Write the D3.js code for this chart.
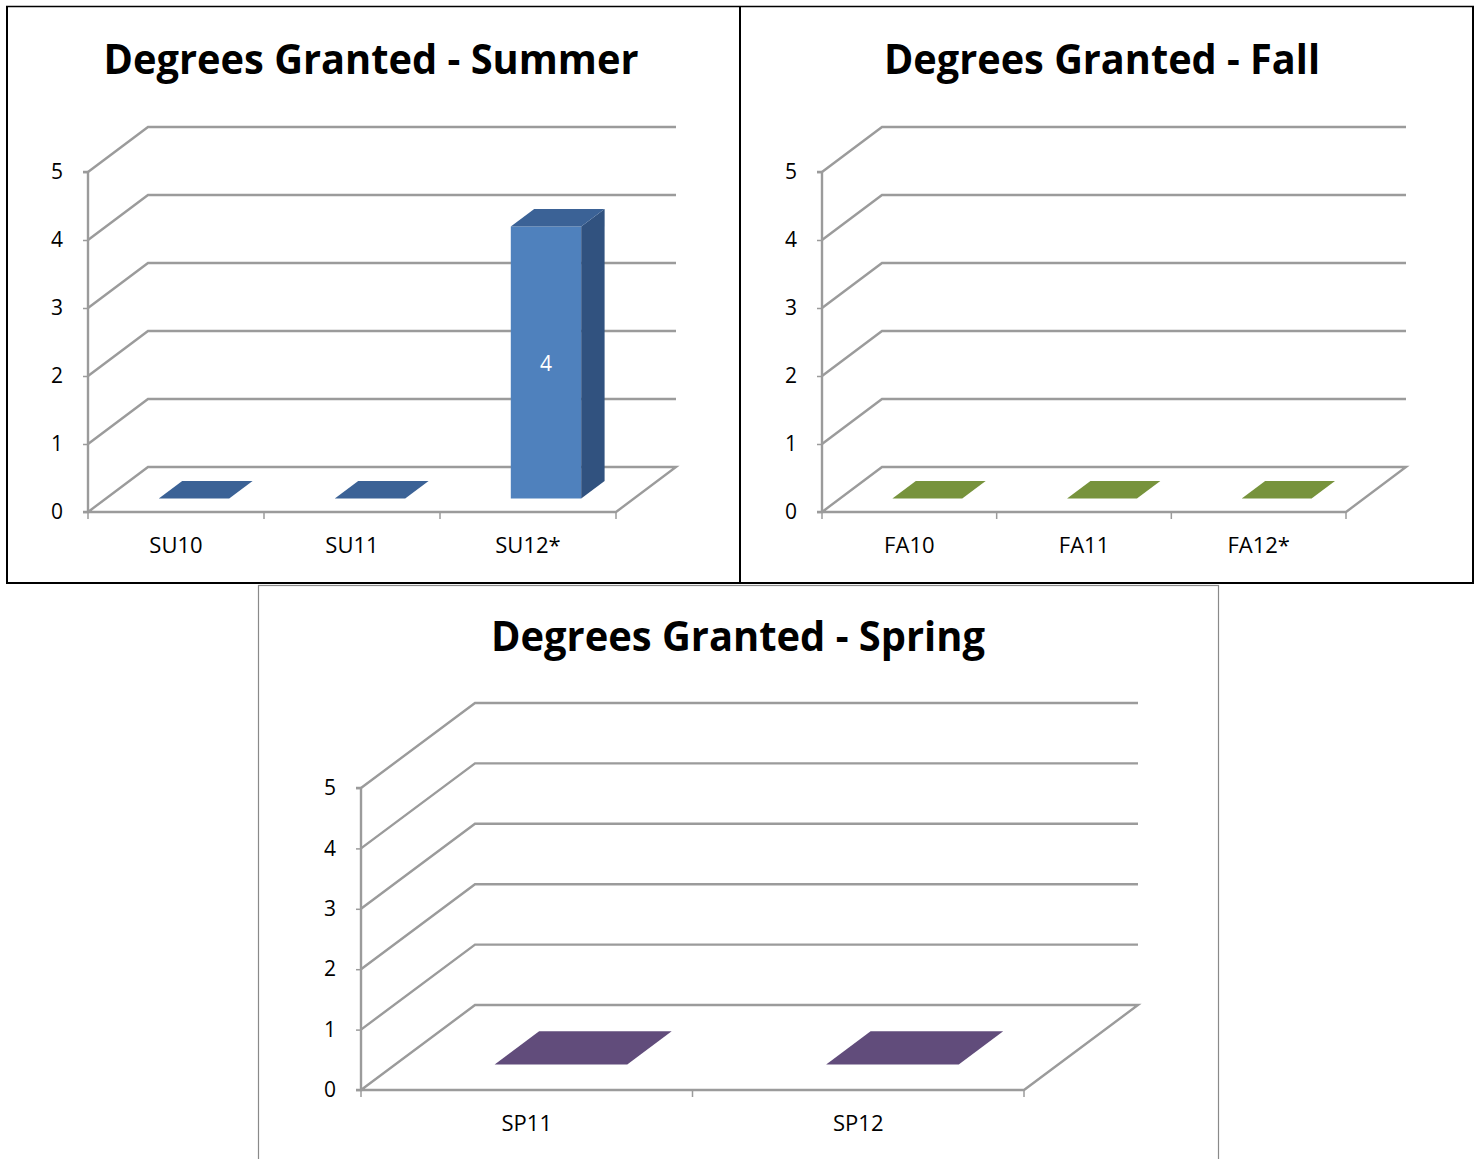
<!DOCTYPE html>
<html>
<head>
<meta charset="utf-8">
<script src="https://cdn.jsdelivr.net/npm/d3@7"></script>
<style>
  html, body { margin: 0; padding: 0; background: #fff; }
  svg { display: block; }
</style>
</head>
<body>
<svg id="chart" width="1482" height="1159"></svg>
<script>
// ---- Data ----
const summerCategories = ["SU10", "SU11", "SU12*"];
const summerValues = [0, 0, 4];
const fallCategories = ["FA10", "FA11", "FA12*"];
const fallValues = [0, 0, 0];
const springCategories = ["SP11", "SP12"];
const springValues = [0, 0];
const yTickValues = [0, 1, 2, 3, 4, 5];
const titles = ["Degrees Granted - Summer", "Degrees Granted - Fall", "Degrees Granted - Spring"];

const svg = d3.select("#chart");
const FONT = "'Open Sans', 'Noto Sans', sans-serif";
const GRID = "#9b9b9b";

// ---- Panel frames ----
const frame = svg.append("g");
frame.append("line").attr("x1", 6).attr("x2", 1474).attr("y1", 6.5).attr("y2", 6.5)
  .attr("stroke", "#000").attr("stroke-width", 1.3);
frame.append("line").attr("x1", 7).attr("x2", 7).attr("y1", 6).attr("y2", 584)
  .attr("stroke", "#000").attr("stroke-width", 2);
frame.append("line").attr("x1", 740).attr("x2", 740).attr("y1", 6).attr("y2", 584)
  .attr("stroke", "#000").attr("stroke-width", 2);
frame.append("line").attr("x1", 1473).attr("x2", 1473).attr("y1", 6).attr("y2", 584)
  .attr("stroke", "#000").attr("stroke-width", 2);
frame.append("line").attr("x1", 6).attr("x2", 1474).attr("y1", 583).attr("y2", 583)
  .attr("stroke", "#000").attr("stroke-width", 2.2);
frame.append("rect").attr("x", 258.5).attr("y", 585.5).attr("width", 960).attr("height", 600)
  .attr("fill", "none").attr("stroke", "#8a8a8a").attr("stroke-width", 1.2);

function title(text, cx, baseline, width) {
  svg.append("text")
    .attr("x", cx).attr("y", baseline)
    .attr("text-anchor", "middle")
    .attr("font-family", FONT).attr("font-weight", "bold")
    .attr("font-size", 42)
    .attr("textLength", width).attr("lengthAdjust", "spacingAndGlyphs")
    .attr("fill", "#000")
    .text(text);
}

function chart3d(opts) {
  const { categories, values, x0, W, yBase, yTop, dx, dy, colors, labelSize } = opts;
  const g = svg.append("g");
  const x = d3.scaleBand().domain(categories).range([x0, x0 + W]);
  const y = d3.scaleLinear().domain([0, 5]).range([yBase, yTop]);
  const xEnd = x0 + W;

  // back-wall gridlines + side-wall diagonals
  yTickValues.forEach(t => {
    const yy = y(t);
    const path = d3.path();
    path.moveTo(x0, yy);
    path.lineTo(x0 + dx, yy + dy);
    path.lineTo(xEnd + dx, yy + dy);
    if (t === 0) {
      path.lineTo(xEnd, yy);
      path.lineTo(x0, yy);
    }
    g.append("path").attr("d", path.toString())
      .attr("fill", "none").attr("stroke", GRID).attr("stroke-width", 2.4)
      .attr("stroke-linejoin", "miter");
  });

  // y axis
  const yAxis = d3.axisLeft(y).tickValues(yTickValues).tickSize(5).tickPadding(20).tickFormat(d3.format("d"));
  const ag = g.append("g").attr("transform", `translate(${x0},0)`).call(yAxis);
  ag.select(".domain").attr("stroke", GRID).attr("stroke-width", 2.4).attr("d", `M-5,${yTop}H0V${yBase}H-5`);
  ag.selectAll(".tick line").attr("stroke", GRID).attr("stroke-width", 1.5);
  ag.selectAll(".tick text").attr("font-family", FONT).attr("font-size", 21).attr("fill", "#000");

  // x axis ticks at band boundaries
  const bounds = categories.map(c => x(c)).concat([xEnd]);
  bounds.forEach(bx => {
    g.append("line").attr("x1", bx).attr("x2", bx).attr("y1", yBase).attr("y2", yBase + 7)
      .attr("stroke", GRID).attr("stroke-width", 1.5);
  });
  categories.forEach(c => {
    g.append("text")
      .attr("x", x(c) + x.bandwidth() / 2).attr("y", yBase + 41)
      .attr("text-anchor", "middle")
      .attr("font-family", FONT).attr("font-size", 22).attr("fill", "#000")
      .text(c);
  });

  // bars
  const f0 = 0.3, f1 = 0.69;
  const bw = x.bandwidth() * 0.4;
  categories.forEach((c, i) => {
    const v = values[i];
    const cx = x(c) + x.bandwidth() / 2;
    const fx = cx - bw / 2 + dx * f0;
    const fy = yBase + dy * f0;
    const bdx = dx * (f1 - f0), bdy = dy * (f1 - f0);
    const top = fy - (yBase - y(v));
    const bg = g.append("g");
    // front
    bg.append("polygon")
      .attr("points", [[fx, fy], [fx + bw, fy], [fx + bw, top], [fx, top]].map(p => p.join(",")).join(" "))
      .attr("fill", colors.front);
    // side
    bg.append("polygon")
      .attr("points", [[fx + bw, fy], [fx + bw + bdx, fy + bdy], [fx + bw + bdx, top + bdy], [fx + bw, top]].map(p => p.join(",")).join(" "))
      .attr("fill", colors.side);
    // top
    bg.append("polygon")
      .attr("points", [[fx, top], [fx + bw, top], [fx + bw + bdx, top + bdy], [fx + bdx, top + bdy]].map(p => p.join(",")).join(" "))
      .attr("fill", colors.top);
    if (v > 0) {
      bg.append("text")
        .attr("x", fx + bw / 2).attr("y", (fy + top) / 2 + 8)
        .attr("text-anchor", "middle")
        .attr("font-family", FONT).attr("font-size", labelSize).attr("fill", "#fff")
        .text(v);
    }
  });
}

title(titles[0], 371, 74, 535);
title(titles[1], 1102, 74, 436);
title(titles[2], 738, 651, 494);

chart3d({
  categories: summerCategories, values: summerValues,
  x0: 88, W: 528, yBase: 512, yTop: 172, dx: 60, dy: -45,
  colors: { front: "#4f81bd", side: "#31527f", top: "#3b6296" }, labelSize: 21
});
chart3d({
  categories: fallCategories, values: fallValues,
  x0: 822, W: 524, yBase: 512, yTop: 172, dx: 60, dy: -45,
  colors: { front: "#77933c", side: "#5c7330", top: "#77933c" }, labelSize: 21
});
chart3d({
  categories: springCategories, values: springValues,
  x0: 361, W: 663, yBase: 1090, yTop: 788, dx: 114, dy: -85,
  colors: { front: "#604a7b", side: "#4a395f", top: "#614c7b" }, labelSize: 21
});
</script>
</body>
</html>
